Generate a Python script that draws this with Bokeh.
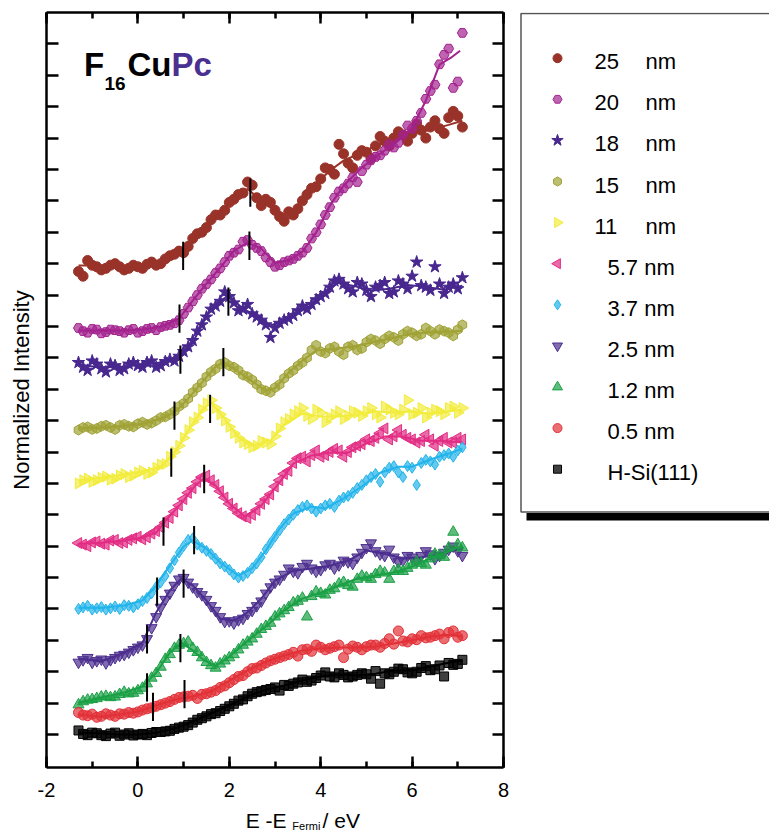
import math
from bokeh.plotting import figure
from bokeh.models import Range1d, FixedTicker, SingleIntervalTicker, LinearAxis, Label
from bokeh.layouts import row, column
from bokeh.core.properties import value
from bokeh.embed import file_html
from bokeh.resources import INLINE

FONT = "Liberation Sans"

# ---------------- data ----------------
# two interleaved sampling grids of the photon energy (eV relative to E_Fermi)
energy_a = [-1.3, -1.1, -0.9, -0.7, -0.5, -0.3, -0.1, 0.1, 0.3, 0.5, 0.7, 0.9, 1.1, 1.3,
            1.5, 1.7, 1.9, 2.1, 2.3, 2.5, 2.7, 2.9, 3.1, 3.3, 3.5, 3.7, 3.9, 4.1, 4.3,
            4.5, 4.7, 4.9, 5.1, 5.3, 5.5, 5.7, 5.9, 6.1, 6.3, 6.5, 6.7, 6.9, 7.1]
energy_b = [-1.2, -1.0, -0.8, -0.6, -0.4, -0.2, 0.0, 0.2, 0.4, 0.6, 0.8, 1.0, 1.2, 1.4,
            1.6, 1.8, 2.0, 2.2, 2.4, 2.6, 2.8, 3.0, 3.2, 3.4, 3.6, 3.8, 4.0, 4.2, 4.4,
            4.6, 4.8, 5.0, 5.2, 5.4, 5.6, 5.8, 6.0, 6.2, 6.4, 6.6, 6.8, 7.0]

series_names = ["25", "20", "18", "15", "11", "5.7", "3.7", "2.5", "1.2", "0.5", "H-Si(111)"]

int_25_a = [15.75, 16.10, 15.90, 15.85, 16.00, 15.80, 15.95, 15.85, 16.05, 16.00, 16.25, 16.40, 16.55, 16.95,
            17.15, 17.55, 17.70, 18.05, 18.25, 18.50, 17.85, 17.95, 17.50, 17.65, 17.75, 18.20, 18.45, 19.05,
            18.85, 19.50, 19.05, 19.60, 19.35, 20.05, 19.75, 20.20, 19.90, 20.45, 20.00, 20.55, 20.15, 20.85, 20.35]
int_25_b = [15.60, 15.95, 15.80, 15.95, 15.90, 15.85, 15.90, 15.98, 15.95, 16.15, 16.30, 16.35, 16.80, 17.00,
            17.40, 17.55, 17.95, 18.20, 18.60, 18.10, 18.05, 17.70, 17.35, 17.55, 18.00, 18.40, 18.70, 19.00,
            19.80, 19.20, 19.45, 19.55, 19.75, 19.90, 20.00, 20.10, 20.15, 20.25, 20.35, 20.30, 20.65, 20.70]
int_20_a = [13.95, 13.80, 13.90, 13.82, 13.88, 13.80, 13.92, 13.85, 13.95, 13.98, 14.05, 14.20, 14.60, 15.00,
            15.35, 15.70, 16.05, 16.35, 16.70, 16.60, 16.40, 16.05, 15.95, 16.10, 16.25, 16.50, 17.00, 17.55,
            18.10, 18.40, 18.75, 18.95, 19.30, 19.45, 19.80, 19.85, 20.40, 20.55, 21.25, 21.70, 22.65, 21.60, 23.35]
int_20_b = [13.85, 13.92, 13.78, 13.90, 13.85, 13.88, 13.80, 13.92, 13.88, 14.02, 14.10, 14.40, 14.80, 15.20,
            15.50, 15.85, 16.25, 16.45, 16.75, 16.50, 16.20, 15.90, 16.05, 16.15, 16.35, 16.80, 17.25, 17.80,
            18.30, 18.55, 18.60, 19.15, 19.40, 19.60, 19.70, 20.10, 20.30, 20.80, 21.50, 22.35, 22.85, 21.80]
int_18_a = [12.85, 12.60, 12.80, 12.55, 12.75, 12.65, 12.85, 12.70, 12.90, 12.75, 12.95, 13.05, 13.35, 13.85,
            14.30, 14.65, 15.10, 14.75, 14.55, 14.40, 14.20, 13.65, 14.10, 14.25, 14.50, 14.55, 14.85, 15.05,
            15.45, 15.35, 15.10, 15.35, 14.95, 15.30, 15.05, 15.45, 15.20, 16.05, 15.25, 15.90, 15.05, 15.35, 15.55]
int_18_b = [12.70, 12.90, 12.65, 12.80, 12.60, 12.80, 12.75, 12.85, 12.70, 12.88, 12.90, 13.20, 13.55, 14.05,
            14.55, 14.80, 14.95, 14.50, 14.70, 14.30, 14.05, 13.95, 14.20, 14.35, 14.65, 14.70, 14.95, 15.25,
            15.50, 15.20, 15.40, 15.15, 15.25, 15.40, 15.10, 15.35, 15.60, 15.30, 15.15, 15.35, 15.25, 15.20]
int_15_a = [10.70, 10.80, 10.75, 10.85, 10.72, 10.88, 10.80, 10.95, 10.92, 11.10, 11.20, 11.45, 11.70, 12.05,
            12.40, 12.65, 12.85, 12.70, 12.45, 12.30, 12.00, 11.90, 12.15, 12.50, 12.75, 13.00, 13.40, 13.15,
            13.35, 13.10, 13.40, 13.30, 13.60, 13.45, 13.70, 13.55, 13.85, 13.70, 13.95, 13.75, 13.85, 13.70, 14.05]
int_15_b = [10.78, 10.72, 10.82, 10.78, 10.85, 10.82, 10.90, 10.88, 11.00, 11.12, 11.30, 11.55, 11.90, 12.20,
            12.55, 12.80, 12.75, 12.60, 12.40, 12.15, 11.95, 12.05, 12.35, 12.60, 12.85, 13.25, 13.20, 13.30,
            13.20, 13.35, 13.25, 13.50, 13.55, 13.60, 13.65, 13.75, 13.80, 13.75, 13.85, 13.90, 13.80, 13.90]
int_11_a = [9.00, 9.15, 9.10, 9.22, 9.15, 9.30, 9.25, 9.40, 9.35, 9.60, 9.85, 10.20, 10.70, 11.10,
            11.55, 11.40, 11.00, 10.60, 10.30, 10.15, 10.35, 10.25, 10.75, 11.05, 11.30, 11.15, 11.35, 10.95,
            11.20, 11.05, 11.30, 11.15, 11.40, 11.10, 11.35, 11.20, 11.65, 11.25, 11.10, 11.35, 11.20, 11.45, 11.40]
int_11_b = [9.10, 9.05, 9.18, 9.12, 9.25, 9.20, 9.35, 9.30, 9.50, 9.62, 10.00, 10.45, 10.95, 11.35,
            11.65, 11.20, 10.80, 10.45, 10.25, 10.20, 10.30, 10.50, 10.95, 11.20, 11.40, 11.05, 11.25, 11.10,
            11.30, 11.15, 11.25, 11.30, 11.20, 11.45, 11.25, 11.35, 11.20, 11.40, 11.25, 11.30, 11.40, 11.25]
int_5p7_a = [7.10, 7.00, 7.15, 7.05, 7.20, 7.12, 7.25, 7.22, 7.40, 7.60, 7.90, 8.30, 8.70, 9.05,
             9.25, 8.95, 8.55, 8.20, 7.95, 8.00, 8.35, 8.65, 9.10, 9.40, 9.80, 9.70, 10.05, 9.90,
             10.10, 9.85, 10.15, 10.25, 10.35, 10.60, 10.40, 10.70, 10.45, 10.30, 10.55, 10.20, 10.45, 10.30, 10.40]
int_5p7_b = [7.05, 7.12, 7.08, 7.18, 7.10, 7.20, 7.30, 7.28, 7.48, 7.75, 8.10, 8.50, 8.85, 9.20,
             9.10, 8.75, 8.35, 8.05, 7.90, 8.15, 8.50, 8.90, 9.30, 9.65, 9.85, 9.90, 9.85, 10.00,
             10.05, 10.00, 10.20, 10.40, 10.45, 10.75, 10.50, 10.55, 10.40, 10.35, 10.40, 10.35, 10.30, 10.45]
int_3p7_a = [5.00, 5.10, 5.02, 4.98, 5.08, 5.12, 5.05, 5.25, 5.50, 5.85, 6.30, 6.80, 7.20, 7.05,
             6.85, 6.60, 6.35, 6.10, 6.05, 6.30, 6.65, 7.10, 7.50, 7.85, 8.15, 8.30, 8.10, 8.30,
             8.25, 8.55, 8.70, 8.95, 9.20, 9.05, 9.50, 9.35, 9.55, 8.95, 9.75, 9.60, 9.90, 9.85, 10.15]
int_3p7_b = [5.05, 4.98, 5.06, 5.02, 5.00, 5.10, 5.15, 5.35, 5.70, 6.05, 6.55, 7.00, 7.25, 6.95,
             6.75, 6.45, 6.25, 6.00, 6.15, 6.45, 6.90, 7.30, 7.70, 8.00, 8.25, 8.20, 8.20, 8.35,
             8.45, 8.60, 8.85, 9.10, 9.30, 9.35, 9.55, 9.20, 9.50, 9.65, 9.70, 9.85, 9.95, 10.05]
int_2p5_a = [3.30, 3.45, 3.35, 3.28, 3.45, 3.55, 3.70, 3.85, 4.40, 5.05, 5.50, 5.95, 5.85, 5.55,
             5.30, 4.95, 4.60, 4.55, 4.70, 4.95, 5.25, 5.70, 5.95, 6.30, 6.15, 6.45, 6.20, 6.40,
             6.30, 6.55, 6.45, 6.80, 7.10, 6.75, 6.90, 6.50, 6.70, 6.55, 6.85, 6.60, 6.80, 7.00, 6.70]
int_2p5_b = [3.38, 3.30, 3.40, 3.38, 3.52, 3.62, 3.78, 4.05, 4.75, 5.30, 5.75, 6.00, 5.70, 5.45,
             5.10, 4.75, 4.62, 4.65, 4.85, 5.10, 5.50, 5.85, 6.10, 6.20, 6.35, 6.30, 6.25, 6.45,
             6.40, 6.50, 6.65, 6.95, 6.85, 6.70, 6.65, 6.55, 6.65, 6.70, 6.75, 6.70, 6.90, 6.85]
int_1p2_a = [1.95, 2.10, 2.15, 2.22, 2.20, 2.35, 2.32, 2.48, 2.80, 3.15, 3.55, 3.85, 3.95, 3.62,
             3.30, 3.12, 3.35, 3.55, 3.85, 4.05, 4.35, 4.55, 4.85, 5.05, 5.25, 4.75, 5.55, 5.45,
             5.65, 5.85, 5.70, 6.05, 5.95, 6.20, 5.95, 6.25, 6.30, 6.50, 6.40, 6.75, 6.65, 7.45, 6.95]
int_1p2_b = [2.05, 2.12, 2.20, 2.18, 2.28, 2.30, 2.40, 2.62, 2.95, 3.40, 3.75, 3.90, 3.75, 3.45,
             3.20, 3.25, 3.45, 3.70, 3.95, 4.20, 4.45, 4.75, 4.95, 5.20, 5.35, 5.40, 5.50, 5.60,
             5.80, 5.75, 5.95, 6.00, 6.10, 6.15, 6.20, 6.20, 6.40, 6.45, 6.60, 6.70, 6.95, 7.05]
int_0p5_a = [1.70, 1.60, 1.55, 1.66, 1.58, 1.65, 1.68, 1.78, 1.85, 1.95, 2.05, 2.18, 2.22, 2.15,
             2.30, 2.40, 2.55, 2.75, 2.88, 3.10, 3.20, 3.35, 3.45, 3.55, 3.50, 3.72, 3.85, 3.70,
             3.80, 3.45, 3.82, 3.70, 3.85, 3.78, 4.05, 4.30, 3.95, 4.02, 4.08, 4.15, 4.05, 4.30, 4.15]
int_0p5_b = [1.62, 1.65, 1.58, 1.62, 1.66, 1.70, 1.72, 1.82, 1.90, 2.00, 2.12, 2.20, 2.25, 2.28,
             2.35, 2.50, 2.65, 2.85, 3.00, 3.12, 3.28, 3.40, 3.50, 3.62, 3.70, 3.65, 3.78, 3.75,
             3.85, 3.72, 3.78, 3.80, 3.85, 3.90, 3.88, 3.98, 4.05, 4.15, 4.10, 4.20, 4.25, 4.10]
int_hsi_a = [1.13, 0.98, 1.04, 0.95, 1.06, 1.00, 0.97, 1.02, 1.05, 1.08, 1.12, 1.22, 1.30, 1.47,
             1.58, 1.68, 1.82, 1.98, 2.12, 2.30, 2.38, 2.45, 2.40, 2.55, 2.66, 2.68, 2.80, 2.98,
             2.82, 2.90, 2.85, 2.95, 2.78, 2.62, 2.92, 3.10, 2.98, 3.00, 3.18, 3.08, 2.85, 3.22, 3.38]
int_hsi_b = [1.02, 1.06, 0.98, 1.03, 0.96, 1.04, 1.00, 0.98, 1.08, 1.10, 1.18, 1.25, 1.38, 1.52,
             1.65, 1.75, 1.90, 2.08, 2.22, 2.35, 2.42, 2.50, 2.58, 2.62, 2.75, 2.72, 2.88, 2.85,
             2.95, 2.82, 2.90, 2.92, 3.02, 2.95, 3.00, 3.08, 2.95, 3.12, 3.05, 3.20, 3.28, 3.25]

# smoothed curves
fit_x_25 = [-1.3, -0.8, -0.3, 0.1, 0.5, 0.9, 1.2, 1.5, 1.8, 2.1, 2.4, 2.7, 3.0, 3.3, 3.6, 3.9, 4.2, 4.5, 4.9, 5.3, 5.7, 6.1, 6.5, 6.8, 7.1]
fit_y_25 = [15.94, 15.94, 15.88, 15.91, 16.10, 16.35, 16.70, 17.21, 17.62, 18.07, 18.38, 18.01, 17.69, 17.43, 17.94, 18.55, 18.96, 19.28, 19.54, 19.82, 20.04, 20.17, 20.30, 20.42, 20.55]
fit_x_20 = [-1.3, -0.8, -0.3, 0.1, 0.5, 0.9, 1.2, 1.5, 1.8, 2.1, 2.4, 2.7, 3.0, 3.3, 3.6, 3.9, 4.2, 4.5, 4.9, 5.3, 5.7, 6.0, 6.3, 6.6, 6.85, 7.05]
fit_y_20 = [13.87, 13.87, 13.87, 13.90, 13.99, 14.25, 14.82, 15.36, 15.87, 16.41, 16.67, 16.48, 16.03, 16.10, 16.38, 16.99, 17.85, 18.48, 19.06, 19.50, 19.92, 20.33, 21.19, 22.34, 22.56, 22.78]
fit_x_18 = [-1.3, -0.8, -0.3, 0.1, 0.5, 0.9, 1.2, 1.5, 1.8, 2.0, 2.3, 2.6, 2.9, 3.2, 3.5, 3.8, 4.1, 4.35, 4.7, 5.1, 5.5, 5.9, 6.3, 6.7, 7.1]
fit_y_18 = [12.78, 12.69, 12.72, 12.78, 12.85, 13.04, 13.48, 14.34, 14.82, 14.98, 14.56, 14.34, 14.03, 14.18, 14.44, 14.66, 15.01, 15.39, 15.30, 15.14, 15.20, 15.32, 15.26, 15.17, 15.30]
fit_x_15 = [-1.3, -0.8, -0.3, 0.1, 0.5, 0.8, 1.1, 1.4, 1.7, 1.85, 2.1, 2.4, 2.8, 3.0, 3.3, 3.6, 3.9, 4.3, 4.7, 5.1, 5.5, 5.9, 6.3, 6.7, 7.1]
fit_y_15 = [10.75, 10.78, 10.84, 10.90, 11.06, 11.25, 11.70, 12.21, 12.72, 12.85, 12.66, 12.34, 11.96, 12.03, 12.53, 12.91, 13.23, 13.29, 13.36, 13.48, 13.61, 13.74, 13.80, 13.83, 13.86]
fit_x_11 = [-1.3, -0.8, -0.3, 0.1, 0.5, 0.8, 1.1, 1.4, 1.6, 1.9, 2.2, 2.5, 2.9, 3.2, 3.6, 4.0, 4.4, 4.8, 5.2, 5.6, 6.0, 6.4, 6.8, 7.1]
fit_y_11 = [9.09, 9.18, 9.28, 9.38, 9.53, 9.98, 10.68, 11.32, 11.57, 11.06, 10.46, 10.20, 10.36, 10.87, 11.22, 11.13, 11.13, 11.19, 11.29, 11.26, 11.29, 11.22, 11.29, 11.35]
fit_x_5p7 = [-1.3, -0.8, -0.3, 0.1, 0.4, 0.7, 1.0, 1.25, 1.45, 1.7, 2.0, 2.35, 2.7, 3.1, 3.4, 3.8, 4.2, 4.6, 5.0, 5.4, 5.8, 6.2, 6.6, 7.1]
fit_y_5p7 = [7.08, 7.11, 7.18, 7.27, 7.43, 7.97, 8.45, 8.93, 9.16, 8.93, 8.36, 7.94, 8.29, 9.03, 9.63, 9.89, 9.98, 9.98, 10.27, 10.49, 10.49, 10.36, 10.36, 10.30]
fit_x_3p7 = [-1.3, -0.8, -0.3, 0.1, 0.4, 0.7, 1.0, 1.2, 1.5, 1.8, 2.2, 2.5, 2.8, 3.1, 3.4, 3.8, 4.1, 4.5, 4.9, 5.3, 5.7, 6.0, 6.4, 6.8, 7.1]
fit_y_3p7 = [5.04, 5.04, 5.11, 5.27, 5.74, 6.38, 6.99, 7.18, 6.92, 6.48, 6.06, 6.29, 6.86, 7.56, 8.04, 8.26, 8.20, 8.52, 8.90, 9.34, 9.53, 9.53, 9.76, 9.95, 10.11]
fit_x_2p5 = [-1.3, -0.8, -0.3, 0.1, 0.4, 0.7, 0.95, 1.2, 1.5, 1.8, 2.1, 2.4, 2.7, 3.0, 3.4, 3.8, 4.2, 4.6, 5.0, 5.4, 5.8, 6.2, 6.6, 7.1]
fit_y_2p5 = [3.42, 3.33, 3.61, 3.93, 4.89, 5.59, 5.97, 5.75, 5.27, 4.69, 4.63, 4.89, 5.33, 5.90, 6.22, 6.29, 6.38, 6.54, 6.86, 6.76, 6.61, 6.64, 6.76, 6.92]
fit_x_1p2 = [-1.3, -0.8, -0.3, 0.1, 0.4, 0.7, 0.95, 1.2, 1.45, 1.7, 2.0, 2.4, 2.8, 3.2, 3.6, 4.0, 4.4, 4.8, 5.2, 5.6, 6.0, 6.4, 6.8, 7.1]
fit_y_1p2 = [2.02, 2.18, 2.34, 2.53, 2.97, 3.61, 3.93, 3.68, 3.36, 3.19, 3.48, 3.99, 4.44, 4.95, 5.33, 5.52, 5.74, 5.97, 6.06, 6.16, 6.35, 6.61, 6.83, 7.02]
fit_x_0p5 = [-1.3, -0.8, -0.4, 0.0, 0.4, 0.8, 1.2, 1.6, 2.0, 2.4, 2.8, 3.2, 3.6, 4.0, 4.4, 4.8, 5.2, 5.6, 6.0, 6.4, 6.8, 7.1]
fit_y_0p5 = [1.64, 1.57, 1.64, 1.73, 1.92, 2.11, 2.21, 2.37, 2.72, 3.04, 3.32, 3.52, 3.68, 3.74, 3.77, 3.77, 3.80, 3.90, 4.00, 4.12, 4.18, 4.12]
fit_x_hsi = [-1.3, -0.8, -0.4, 0.0, 0.4, 0.8, 1.2, 1.6, 2.0, 2.4, 2.8, 3.2, 3.6, 4.0, 4.4, 4.8, 5.2, 5.6, 6.0, 6.4, 6.8, 7.1]
fit_y_hsi = [1.06, 1.03, 1.00, 1.00, 1.06, 1.19, 1.41, 1.67, 1.92, 2.21, 2.43, 2.56, 2.72, 2.85, 2.91, 2.88, 2.94, 3.04, 3.04, 3.17, 3.29, 3.36]

# vertical markers (onset / peak): x position and centre intensity
mark_x = [0.99, 2.46, 0.91, 2.44, 0.93, 1.98, 0.80, 1.87, 0.73, 1.58, 0.56, 1.45, 0.42, 1.23, 0.20, 1.00, 0.20, 0.93, 0.33, 1.02]
mark_y = [16.25, 18.26, 14.25, 16.57, 12.94, 14.79, 11.16, 12.86, 9.66, 11.37, 7.46, 9.14, 5.55, 7.19, 4.03, 5.81, 2.50, 3.75, 1.88, 2.29]
mark_half = 0.45

x_ticks = [-2, 0, 2, 4, 6, 8]
x_tick_labels = ["-2", "0", "2", "4", "6", "8"]
y_ticks = list(range(1, 24))

scatter_sets = [(int_25_a, int_25_b), (int_20_a, int_20_b), (int_18_a, int_18_b), (int_15_a, int_15_b),
                (int_11_a, int_11_b), (int_5p7_a, int_5p7_b), (int_3p7_a, int_3p7_b), (int_2p5_a, int_2p5_b),
                (int_1p2_a, int_1p2_b), (int_0p5_a, int_0p5_b), (int_hsi_a, int_hsi_b)]
fit_sets = [(fit_x_25, fit_y_25), (fit_x_20, fit_y_20), (fit_x_18, fit_y_18), (fit_x_15, fit_y_15),
            (fit_x_11, fit_y_11), (fit_x_5p7, fit_y_5p7), (fit_x_3p7, fit_y_3p7), (fit_x_2p5, fit_y_2p5),
            (fit_x_1p2, fit_y_1p2), (fit_x_0p5, fit_y_0p5), (fit_x_hsi, fit_y_hsi)]

# ---------------- style ----------------
colors = ["#99332A", "#A3228E", "#48288F", "#A0A235", "#F2EC3C", "#E22C84",
          "#22B4EA", "#4B2E8E", "#1AA045", "#E23038", "#000000"]
markers = ["circle", "hex", "star", "hex", "triangle", "triangle",
           "diamond", "inverted_triangle", "triangle", "circle", "square"]
angles = [0, 0, 0, math.pi / 6, -math.pi / 2, math.pi / 2, 0, 0, 0, 0, 0]
sizes = [10, 10, 13, 10, 11, 11, 11, 11, 11, 10, 9]
alphas = [1.0, 0.7, 1.0, 0.7, 0.7, 0.7, 0.7, 0.7, 0.7, 0.7, 0.75]

p = figure(width=510, height=805, x_range=Range1d(-2, 8), y_range=Range1d(-0.05, 24.0),
           output_backend="svg", toolbar_location=None,
           min_border_left=46, min_border_right=7, min_border_top=12, min_border_bottom=38)
p.xgrid.visible = False
p.ygrid.visible = False
p.outline_line_color = None
p.background_fill_color = "white"
p.border_fill_color = "white"

overrides_x = {t: l for t, l in zip(x_ticks, x_tick_labels)}
blank_x = {t: "" for t in x_ticks}
blank_y = {t: "" for t in y_ticks}


def style_axis(ax, tick_len, minor_len):
    ax.axis_line_width = 2.5
    ax.axis_line_color = "black"
    ax.major_tick_line_width = 2.5
    ax.major_tick_line_color = "black"
    ax.major_tick_in = tick_len
    ax.major_tick_out = 0
    ax.minor_tick_line_width = 2.5
    ax.minor_tick_line_color = "black"
    ax.minor_tick_in = minor_len
    ax.minor_tick_out = 0
    ax.major_label_text_font = FONT
    ax.major_label_text_color = "black"


xb = p.xaxis[0]
xb.ticker = SingleIntervalTicker(interval=2, num_minor_ticks=2)
style_axis(xb, 11, 6)
xb.major_label_overrides = overrides_x
xb.major_label_text_font_size = "20px"
xb.major_label_standoff = 15

xt = LinearAxis(ticker=SingleIntervalTicker(interval=2, num_minor_ticks=2))
style_axis(xt, 11, 6)
xt.major_label_overrides = blank_x
xt.major_label_text_font_size = "0px"
xt.major_label_standoff = 0
p.add_layout(xt, "above")

yl = p.yaxis[0]
yl.ticker = FixedTicker(ticks=y_ticks, minor_ticks=[])
style_axis(yl, 12, 0)
yl.major_label_overrides = blank_y
yl.major_label_text_font_size = "0px"
yl.major_label_standoff = 0
yl.axis_label = "Normalized Intensity"
yl.axis_label_text_font = FONT
yl.axis_label_text_font_style = "normal"
yl.axis_label_text_font_size = "22px"
yl.axis_label_text_color = "black"
yl.axis_label_standoff = 13

yr = LinearAxis(ticker=FixedTicker(ticks=y_ticks, minor_ticks=[]))
style_axis(yr, 11, 0)
yr.major_label_overrides = blank_y
yr.major_label_text_font_size = "0px"
yr.major_label_standoff = 0
p.add_layout(yr, "right")

for i in range(len(series_names)):
    fx, fy = fit_sets[i]
    p.line(fx, fy, line_color=colors[i], line_width=2)
    ya, yb = scatter_sets[i]
    for ex, ey in ((energy_a, ya), (energy_b, yb)):
        p.scatter(ex, ey, marker=markers[i], size=sizes[i], angle=angles[i],
                  fill_color=colors[i], fill_alpha=alphas[i], line_color=colors[i], line_width=1)

p.segment(x0=mark_x, y0=[c - mark_half for c in mark_y], x1=mark_x, y1=[c + mark_half for c in mark_y],
          line_color="black", line_width=2)

# compound title  F16CuPc  (anchors at cap centres)
tx, ty, ty_sub = -1.18, 22.34, 21.75
p.add_layout(Label(x=tx, y=ty, text="F", text_font=FONT, text_font_style="bold",
                   text_font_size="33px", text_color="black", text_baseline="middle"))
p.add_layout(Label(x=tx, y=ty_sub, x_offset=20.5, text="16", text_font=FONT, text_font_style="bold",
                   text_font_size="19px", text_color="black", text_baseline="middle"))
p.add_layout(Label(x=tx, y=ty, x_offset=43.5, text="Cu", text_font=FONT, text_font_style="bold",
                   text_font_size="33px", text_color="black", text_baseline="middle"))
p.add_layout(Label(x=tx, y=ty, x_offset=87.5, text="Pc", text_font=FONT, text_font_style="bold",
                   text_font_size="33px", text_color="#4A3090", text_baseline="middle"))

# ---------------- x axis title strip (y = window pixels) ----------------
xl = figure(width=510, height=28, x_range=p.x_range, y_range=Range1d(833, 805),
            output_backend="svg", toolbar_location=None,
            min_border_left=46, min_border_right=7, min_border_top=0, min_border_bottom=0,
            x_axis_location=None, y_axis_location=None)
xl.xgrid.visible = False
xl.ygrid.visible = False
xl.outline_line_color = None
xl.background_fill_color = "white"
xl.border_fill_color = "white"
xl.text([2.36], [820.0], text=["E -E"], text_font=value(FONT), text_font_size="21px",
        text_baseline="middle", text_color="black")
xl.text([3.38], [825.5], text=["Fermi"], text_font=value(FONT), text_font_size="11px",
        text_baseline="middle", text_color="black")
xl.text([4.04], [820.0], text=["/ eV"], text_font=value(FONT), text_font_size="21px",
        text_baseline="middle", text_color="black")

# ---------------- legend panel (coordinates = window pixels) ----------------
lg = figure(width=259, height=805, x_range=Range1d(510, 769), y_range=Range1d(767, 12),
            output_backend="svg", toolbar_location=None,
            min_border_left=0, min_border_right=0, min_border_top=12, min_border_bottom=38,
            x_axis_location=None, y_axis_location=None)
lg.xgrid.visible = False
lg.ygrid.visible = False
lg.outline_line_color = None
lg.background_fill_color = "white"
lg.border_fill_color = "white"

lg.quad(left=[526], right=[790], top=[512.5], bottom=[520], fill_color="black", line_color=None)
lg.quad(left=[520.5], right=[790], top=[13], bottom=[511.5], fill_color="white",
        line_color="#555555", line_width=1.5)

row_y = [57.7 + 41.1 * i for i in range(len(series_names))]
for i, name in enumerate(series_names):
    lg.scatter([557], [row_y[i]], marker=markers[i], size=sizes[i] - 1, angle=angles[i],
               fill_color=colors[i], fill_alpha=alphas[i], line_color=colors[i], line_width=1)
    mid = row_y[i] + 3.5
    if len(name) == 2:
        lg.text([594], [mid], text=[name], text_font=value(FONT), text_font_size="22px",
                text_baseline="middle", text_color="black")
        lg.text([645], [mid], text=["nm"], text_font=value(FONT), text_font_size="22px",
                text_baseline="middle", text_color="black")
    else:
        label = name if name.startswith("H") else name + " nm"
        lg.text([607], [mid], text=[label], text_font=value(FONT), text_font_size="22px",
                text_baseline="middle", text_color="black")

layout = row(column(p, xl), lg)
open("out.html", "w").write(file_html(layout, INLINE))
